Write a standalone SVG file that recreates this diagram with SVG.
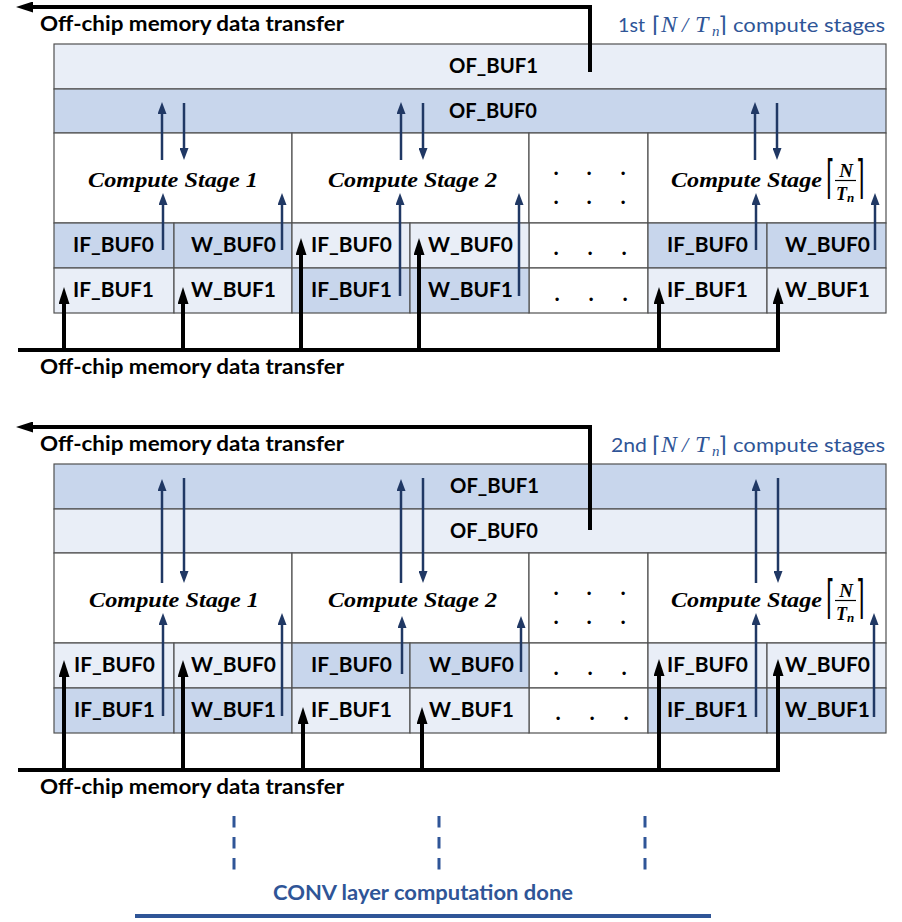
<svg xmlns="http://www.w3.org/2000/svg" width="902" height="922" viewBox="0 0 902 922">
<style>
.M{fill:#C8D6EC}.L{fill:#E9EEF7}.W{fill:#FFFFFF}
.cell{stroke:#505050;stroke-width:1.2}
.lbl{font-family:Lato,"Open Sans","Liberation Sans",sans-serif;font-weight:700;font-size:20px;fill:#000}
.hdr{font-family:Lato,"Open Sans","Liberation Sans",sans-serif;font-weight:400;font-size:20px;fill:#2F5597}
.cs{font-family:"Liberation Serif","DejaVu Serif",serif;font-style:italic;font-weight:700;font-size:22px;fill:#000}
.mi{font-family:"Liberation Serif","DejaVu Serif",serif;font-style:italic;fill:#2F5597}
.br{font-family:"DejaVu Sans",sans-serif;fill:#2F5597}
.frac{font-family:"Liberation Serif","DejaVu Serif",serif;font-style:italic;font-weight:700;fill:#000}
.brk{font-family:"DejaVu Sans",sans-serif;font-size:22px;fill:#000}
.dot{font-family:Lato,"Liberation Sans",sans-serif;font-weight:700;font-size:22px;fill:#000}
.kline{fill:none;stroke:#000;stroke-width:4}
.bline{fill:none;stroke:#203864;stroke-width:2.5}
.conv{font-family:Lato,"Open Sans","Liberation Sans",sans-serif;font-weight:700;font-size:21px;fill:#2F5597}
</style>
<defs>
<marker id="ak" viewBox="0 0 17 11" refX="4" refY="5.5" markerWidth="17" markerHeight="11" markerUnits="userSpaceOnUse" orient="auto"><path d="M0,0 L17,5.5 L0,11 z" fill="#000"/></marker>
<marker id="ab" viewBox="0 0 12 9" refX="3" refY="4.5" markerWidth="12" markerHeight="9" markerUnits="userSpaceOnUse" orient="auto"><path d="M0,0 L12,4.5 L0,9 z" fill="#203864"/></marker>
</defs>

<!-- ===== Panel 1 ===== -->
<g id="p1-of1"><rect class="cell L" x="54" y="44" width="832" height="45"/><text class="lbl" x="449" y="73" textLength="89" lengthAdjust="spacingAndGlyphs">OF_BUF1</text></g>
<g id="p1-of0"><rect class="cell M" x="54" y="89" width="832" height="44"/><text class="lbl" x="449" y="118" textLength="88" lengthAdjust="spacingAndGlyphs">OF_BUF0</text></g>
<g id="p1-cs1"><rect class="cell W" x="54" y="133" width="238" height="90"/><text class="cs" x="88" y="187" textLength="170" lengthAdjust="spacingAndGlyphs">Compute Stage 1</text></g>
<g id="p1-cs2"><rect class="cell W" x="292" y="133" width="237" height="90"/><text class="cs" x="328" y="187" textLength="169" lengthAdjust="spacingAndGlyphs">Compute Stage 2</text></g>
<g id="p1-dots"><rect class="cell W" x="529" y="133" width="119" height="90"/><rect class="cell W" x="529" y="223" width="119" height="45"/><rect class="cell W" x="529" y="268" width="119" height="45"/>
<text class="dot" x="553.5 586.5 620.5" y="175">...</text><text class="dot" x="553.5 586.5 620.5" y="204">...</text><text class="dot" x="553.5 587.5 621.5" y="255">...</text><text class="dot" x="554.5 588.5 622.5" y="301">...</text></g>
<g id="p1-csN"><rect class="cell W" x="648" y="133" width="238" height="90"/><text class="cs" x="671" y="187" textLength="151" lengthAdjust="spacingAndGlyphs">Compute Stage</text>
<text class="brk" transform="translate(826,193) scale(1,2.1)">⌈</text><text class="brk" transform="translate(856,193) scale(1,2.1)">⌉</text>
<text class="frac" x="846" y="177" font-size="19" text-anchor="middle">N</text><line x1="835" y1="180.5" x2="856" y2="180.5" stroke="#000" stroke-width="1.2"/>
<text class="frac" x="836" y="200" font-size="18">T<tspan font-size="13" dy="2">n</tspan></text></g>
<g id="p1-if0-s1"><rect class="cell M" x="54" y="223" width="120" height="45"/><text class="lbl" x="73" y="252" textLength="81" lengthAdjust="spacingAndGlyphs">IF_BUF0</text></g>
<g id="p1-w0-s1"><rect class="cell M" x="174" y="223" width="118" height="45"/><text class="lbl" x="191" y="252" textLength="85" lengthAdjust="spacingAndGlyphs">W_BUF0</text></g>
<g id="p1-if1-s1"><rect class="cell L" x="54" y="268" width="120" height="45"/><text class="lbl" x="73" y="297" textLength="81" lengthAdjust="spacingAndGlyphs">IF_BUF1</text></g>
<g id="p1-w1-s1"><rect class="cell L" x="174" y="268" width="118" height="45"/><text class="lbl" x="191" y="297" textLength="85" lengthAdjust="spacingAndGlyphs">W_BUF1</text></g>
<g id="p1-if0-s2"><rect class="cell L" x="292" y="223" width="118" height="45"/><text class="lbl" x="311" y="252" textLength="81" lengthAdjust="spacingAndGlyphs">IF_BUF0</text></g>
<g id="p1-w0-s2"><rect class="cell L" x="410" y="223" width="119" height="45"/><text class="lbl" x="428" y="252" textLength="85" lengthAdjust="spacingAndGlyphs">W_BUF0</text></g>
<g id="p1-if1-s2"><rect class="cell M" x="292" y="268" width="118" height="45"/><text class="lbl" x="311" y="297" textLength="81" lengthAdjust="spacingAndGlyphs">IF_BUF1</text></g>
<g id="p1-w1-s2"><rect class="cell M" x="410" y="268" width="119" height="45"/><text class="lbl" x="428" y="297" textLength="85" lengthAdjust="spacingAndGlyphs">W_BUF1</text></g>
<g id="p1-if0-sN"><rect class="cell M" x="648" y="223" width="119" height="45"/><text class="lbl" x="667" y="252" textLength="81" lengthAdjust="spacingAndGlyphs">IF_BUF0</text></g>
<g id="p1-w0-sN"><rect class="cell M" x="767" y="223" width="119" height="45"/><text class="lbl" x="785" y="252" textLength="85" lengthAdjust="spacingAndGlyphs">W_BUF0</text></g>
<g id="p1-if1-sN"><rect class="cell L" x="648" y="268" width="119" height="45"/><text class="lbl" x="667" y="297" textLength="81" lengthAdjust="spacingAndGlyphs">IF_BUF1</text></g>
<g id="p1-w1-sN"><rect class="cell L" x="767" y="268" width="119" height="45"/><text class="lbl" x="785" y="297" textLength="85" lengthAdjust="spacingAndGlyphs">W_BUF1</text></g>

<g id="p1-title"><text class="lbl" x="40" y="31" textLength="304" lengthAdjust="spacingAndGlyphs">Off-chip memory data transfer</text></g>
<g id="p1-bottom-title"><text class="lbl" x="40" y="374" textLength="304" lengthAdjust="spacingAndGlyphs">Off-chip memory data transfer</text></g>
<g id="p1-header">
<text class="hdr" x="618" y="32" textLength="27" lengthAdjust="spacingAndGlyphs">1st</text>
<text class="br" x="652" y="32" font-size="22">⌈</text>
<text class="mi" x="661" y="32" font-size="24">N</text>
<text class="mi" x="682" y="32" font-size="22">/</text>
<text class="mi" x="695" y="32" font-size="24">T</text>
<text class="mi" x="712" y="36" font-size="15">n</text>
<text class="br" x="718" y="32" font-size="22">⌉</text>
<text class="hdr" x="733" y="32" textLength="152" lengthAdjust="spacingAndGlyphs">compute stages</text>
</g>

<!-- ===== Panel 2 ===== -->
<g id="p2-of1"><rect class="cell M" x="54" y="464" width="832" height="45"/><text class="lbl" x="450" y="493" textLength="89" lengthAdjust="spacingAndGlyphs">OF_BUF1</text></g>
<g id="p2-of0"><rect class="cell L" x="54" y="509" width="832" height="44"/><text class="lbl" x="450" y="538" textLength="88" lengthAdjust="spacingAndGlyphs">OF_BUF0</text></g>
<g id="p2-cs1"><rect class="cell W" x="54" y="553" width="238" height="90"/><text class="cs" x="89" y="607" textLength="170" lengthAdjust="spacingAndGlyphs">Compute Stage 1</text></g>
<g id="p2-cs2"><rect class="cell W" x="292" y="553" width="237" height="90"/><text class="cs" x="328" y="607" textLength="169" lengthAdjust="spacingAndGlyphs">Compute Stage 2</text></g>
<g id="p2-dots"><rect class="cell W" x="529" y="553" width="119" height="90"/><rect class="cell W" x="529" y="643" width="119" height="45"/><rect class="cell W" x="529" y="688" width="119" height="45"/>
<text class="dot" x="553.5 586.5 620.5" y="595">...</text><text class="dot" x="553.5 586.5 620.5" y="624">...</text><text class="dot" x="553.5 587.5 621.5" y="675">...</text><text class="dot" x="555.5 589.5 623.5" y="720">...</text></g>
<g id="p2-csN"><rect class="cell W" x="648" y="553" width="238" height="90"/><text class="cs" x="671" y="607" textLength="151" lengthAdjust="spacingAndGlyphs">Compute Stage</text>
<text class="brk" transform="translate(826,613) scale(1,2.1)">⌈</text><text class="brk" transform="translate(856,613) scale(1,2.1)">⌉</text>
<text class="frac" x="846" y="597" font-size="19" text-anchor="middle">N</text><line x1="835" y1="600.5" x2="856" y2="600.5" stroke="#000" stroke-width="1.2"/>
<text class="frac" x="836" y="620" font-size="18">T<tspan font-size="13" dy="2">n</tspan></text></g>
<g id="p2-if0-s1"><rect class="cell L" x="54" y="643" width="120" height="45"/><text class="lbl" x="74" y="672" textLength="81" lengthAdjust="spacingAndGlyphs">IF_BUF0</text></g>
<g id="p2-w0-s1"><rect class="cell L" x="174" y="643" width="118" height="45"/><text class="lbl" x="191" y="672" textLength="85" lengthAdjust="spacingAndGlyphs">W_BUF0</text></g>
<g id="p2-if1-s1"><rect class="cell M" x="54" y="688" width="120" height="45"/><text class="lbl" x="74" y="717" textLength="81" lengthAdjust="spacingAndGlyphs">IF_BUF1</text></g>
<g id="p2-w1-s1"><rect class="cell M" x="174" y="688" width="118" height="45"/><text class="lbl" x="191" y="717" textLength="85" lengthAdjust="spacingAndGlyphs">W_BUF1</text></g>
<g id="p2-if0-s2"><rect class="cell M" x="292" y="643" width="118" height="45"/><text class="lbl" x="311" y="672" textLength="81" lengthAdjust="spacingAndGlyphs">IF_BUF0</text></g>
<g id="p2-w0-s2"><rect class="cell M" x="410" y="643" width="119" height="45"/><text class="lbl" x="429" y="672" textLength="85" lengthAdjust="spacingAndGlyphs">W_BUF0</text></g>
<g id="p2-if1-s2"><rect class="cell L" x="292" y="688" width="118" height="45"/><text class="lbl" x="311" y="717" textLength="81" lengthAdjust="spacingAndGlyphs">IF_BUF1</text></g>
<g id="p2-w1-s2"><rect class="cell L" x="410" y="688" width="119" height="45"/><text class="lbl" x="429" y="717" textLength="85" lengthAdjust="spacingAndGlyphs">W_BUF1</text></g>
<g id="p2-if0-sN"><rect class="cell L" x="648" y="643" width="119" height="45"/><text class="lbl" x="667" y="672" textLength="81" lengthAdjust="spacingAndGlyphs">IF_BUF0</text></g>
<g id="p2-w0-sN"><rect class="cell L" x="767" y="643" width="119" height="45"/><text class="lbl" x="785" y="672" textLength="85" lengthAdjust="spacingAndGlyphs">W_BUF0</text></g>
<g id="p2-if1-sN"><rect class="cell M" x="648" y="688" width="119" height="45"/><text class="lbl" x="667" y="717" textLength="81" lengthAdjust="spacingAndGlyphs">IF_BUF1</text></g>
<g id="p2-w1-sN"><rect class="cell M" x="767" y="688" width="119" height="45"/><text class="lbl" x="785" y="717" textLength="85" lengthAdjust="spacingAndGlyphs">W_BUF1</text></g>

<g id="p2-title"><text class="lbl" x="40" y="451" textLength="304" lengthAdjust="spacingAndGlyphs">Off-chip memory data transfer</text></g>
<g id="p2-bottom-title"><text class="lbl" x="40" y="794" textLength="304" lengthAdjust="spacingAndGlyphs">Off-chip memory data transfer</text></g>
<g id="p2-header">
<text class="hdr" x="611" y="452" textLength="36" lengthAdjust="spacingAndGlyphs">2nd</text>
<text class="br" x="652" y="452" font-size="22">⌈</text>
<text class="mi" x="661" y="452" font-size="24">N</text>
<text class="mi" x="682" y="452" font-size="22">/</text>
<text class="mi" x="695" y="452" font-size="24">T</text>
<text class="mi" x="712" y="456" font-size="15">n</text>
<text class="br" x="718" y="452" font-size="22">⌉</text>
<text class="hdr" x="733" y="452" textLength="152" lengthAdjust="spacingAndGlyphs">compute stages</text>
</g>

<g id="done"><text class="conv" x="273" y="900" textLength="300" lengthAdjust="spacingAndGlyphs">CONV layer computation done</text></g>

<!-- ===== Connectors ===== -->
<g id="connectors">
<path class="kline" d="M590,72 V7 H29" marker-end="url(#ak)"/>
<path class="kline" d="M18,350 H780"/>
<path class="kline" d="M64,350 V300" marker-end="url(#ak)"/>
<path class="kline" d="M183,350 V300" marker-end="url(#ak)"/>
<path class="kline" d="M301,350 V251" marker-end="url(#ak)"/>
<path class="kline" d="M419,350 V251" marker-end="url(#ak)"/>
<path class="kline" d="M659,350 V300" marker-end="url(#ak)"/>
<path class="kline" d="M778,350 V300" marker-end="url(#ak)"/>
<path class="bline" d="M162,160 V111" marker-end="url(#ab)"/>
<path class="bline" d="M184,103 V151" marker-end="url(#ab)"/>
<path class="bline" d="M401,160 V111" marker-end="url(#ab)"/>
<path class="bline" d="M423,103 V151" marker-end="url(#ab)"/>
<path class="bline" d="M755,160 V111" marker-end="url(#ab)"/>
<path class="bline" d="M777,103 V151" marker-end="url(#ab)"/>
<path class="bline" d="M163,250 V202" marker-end="url(#ab)"/>
<path class="bline" d="M282,250 V202" marker-end="url(#ab)"/>
<path class="bline" d="M400,296 V202" marker-end="url(#ab)"/>
<path class="bline" d="M519,296 V202" marker-end="url(#ab)"/>
<path class="bline" d="M756,250 V202" marker-end="url(#ab)"/>
<path class="bline" d="M875,250 V202" marker-end="url(#ab)"/>
<path class="kline" d="M590,530 V427 H29" marker-end="url(#ak)"/>
<path class="kline" d="M18,770 H780"/>
<path class="kline" d="M64,770 V673" marker-end="url(#ak)"/>
<path class="kline" d="M183,770 V673" marker-end="url(#ak)"/>
<path class="kline" d="M303,770 V720" marker-end="url(#ak)"/>
<path class="kline" d="M422,770 V720" marker-end="url(#ak)"/>
<path class="kline" d="M659,770 V672" marker-end="url(#ak)"/>
<path class="kline" d="M778,770 V672" marker-end="url(#ak)"/>
<path class="bline" d="M162,583 V488" marker-end="url(#ab)"/>
<path class="bline" d="M184,478 V574" marker-end="url(#ab)"/>
<path class="bline" d="M401,583 V488" marker-end="url(#ab)"/>
<path class="bline" d="M423,478 V574" marker-end="url(#ab)"/>
<path class="bline" d="M756,583 V488" marker-end="url(#ab)"/>
<path class="bline" d="M778,478 V574" marker-end="url(#ab)"/>
<path class="bline" d="M163,716 V622" marker-end="url(#ab)"/>
<path class="bline" d="M282,716 V622" marker-end="url(#ab)"/>
<path class="bline" d="M402,674 V625" marker-end="url(#ab)"/>
<path class="bline" d="M521,672 V625" marker-end="url(#ab)"/>
<path class="bline" d="M756,717 V622" marker-end="url(#ab)"/>
<path class="bline" d="M874,717 V622" marker-end="url(#ab)"/>
<path d="M234,816 V870 M439,816 V870 M645,816 V870" fill="none" stroke="#2F5597" stroke-width="3" stroke-dasharray="11.5 9.5"/>
<path d="M135,916 H711" fill="none" stroke="#2F5597" stroke-width="4"/>
</g>
</svg>
